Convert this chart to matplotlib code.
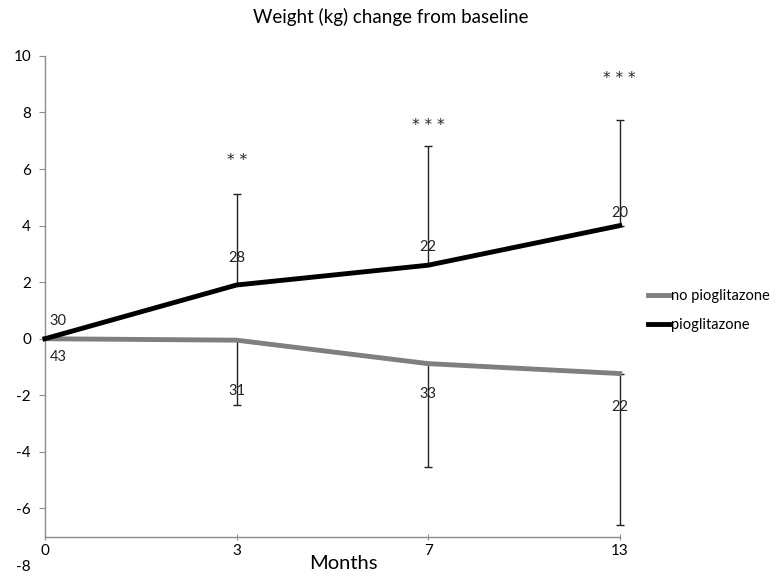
import numpy as np
import matplotlib
matplotlib.use('Agg')
import matplotlib.pyplot as plt

plt.rcParams['font.family'] = ['Lato', 'DejaVu Sans']
plt.rcParams['axes.unicode_minus'] = False

months = ['0', '3', '7', '13']
pio = [0.0, 1.9, 2.6, 4.0]
pio_err = [0.0, 3.2, 4.2, 3.75]
nopio = [0.0, -0.05, -0.88, -1.23]
nopio_err = [0.0, 2.3, 3.65, 5.35]
n_pio = ['30', '28', '22', '20']
n_nopio = ['43', '31', '33', '22']
stars = ['', '**', '***', '***']

# label offsets (data units), hand-placed like the original
off_pio = [0.64, 0.96, 0.64, 0.43]
off_nopio = [0.64, 1.8, 1.07, 1.17]
off_star = [0, 1.2, 0.75, 1.46]

fig = plt.figure(figsize=(7.81, 5.76), dpi=100)
ax = fig.add_axes([0.0576, 0.019, 0.736, 0.884])
x = np.arange(len(months))

ax.errorbar(x[1:], pio[1:], yerr=[np.zeros(3), pio_err[1:]], fmt='none',
            ecolor='#222222', elinewidth=1, capsize=3, capthick=1, zorder=2, clip_on=False)
ax.errorbar(x[1:], nopio[1:], yerr=[nopio_err[1:], np.zeros(3)], fmt='none',
            ecolor='#222222', elinewidth=1, capsize=3, capthick=1, zorder=2, clip_on=False)
ax.plot(x, nopio, color='#7f7f7f', lw=3.5, label='no pioglitazone', zorder=3, clip_on=False)
ax.plot(x, pio, color='black', lw=3.5, label='pioglitazone', zorder=3, clip_on=False)

for i in x:
    dx = 0.07 if i == 0 else 0
    ax.text(i + dx, pio[i] + off_pio[i], n_pio[i], ha='center', va='center',
            fontsize=10.5, color='#222222')
    ax.text(i + dx, nopio[i] - off_nopio[i], n_nopio[i], ha='center', va='center',
            fontsize=10.5, color='#222222')
    if stars[i]:
        ax.text(i, pio[i] + pio_err[i] + off_star[i], ' '.join(stars[i]), ha='center',
                va='center', fontsize=11, color='#222222', family='DejaVu Sans')

ax.set_xlim(0, 3)
ax.set_ylim(-8, 10)
ax.set_yticks(np.arange(-8, 11, 2))
ax.set_xticks(x)
ax.set_xticklabels(months)
for s in ['top', 'right']:
    ax.spines[s].set_visible(False)
ax.spines['bottom'].set_position(('data', -7))
ax.spines['left'].set_bounds(-7, 10)
for s in ['bottom', 'left']:
    ax.spines[s].set_color('#8c8c8c')
    ax.spines[s].set_linewidth(1)
ax.tick_params(axis='y', length=4, color='#8c8c8c', labelsize=11, pad=6)
ax.tick_params(axis='x', length=5, direction='inout', color='#8c8c8c', labelsize=11, pad=3)
ax.yaxis.get_major_ticks()[0].tick1line.set_visible(False)

fig.text(0.44, 0.022, 'Months', ha='center', va='center', fontsize=14.5)
fig.text(0.5, 0.97, 'Weight (kg) change from baseline', ha='center', va='center', fontsize=13.5)

ax.legend(loc='center left', bbox_to_anchor=(1.032, 0.5), frameon=False, fontsize=10.5,
          handlelength=1.4, handletextpad=0.15, labelspacing=1.05, borderpad=0.2)

fig.savefig('out.png', dpi=100)
